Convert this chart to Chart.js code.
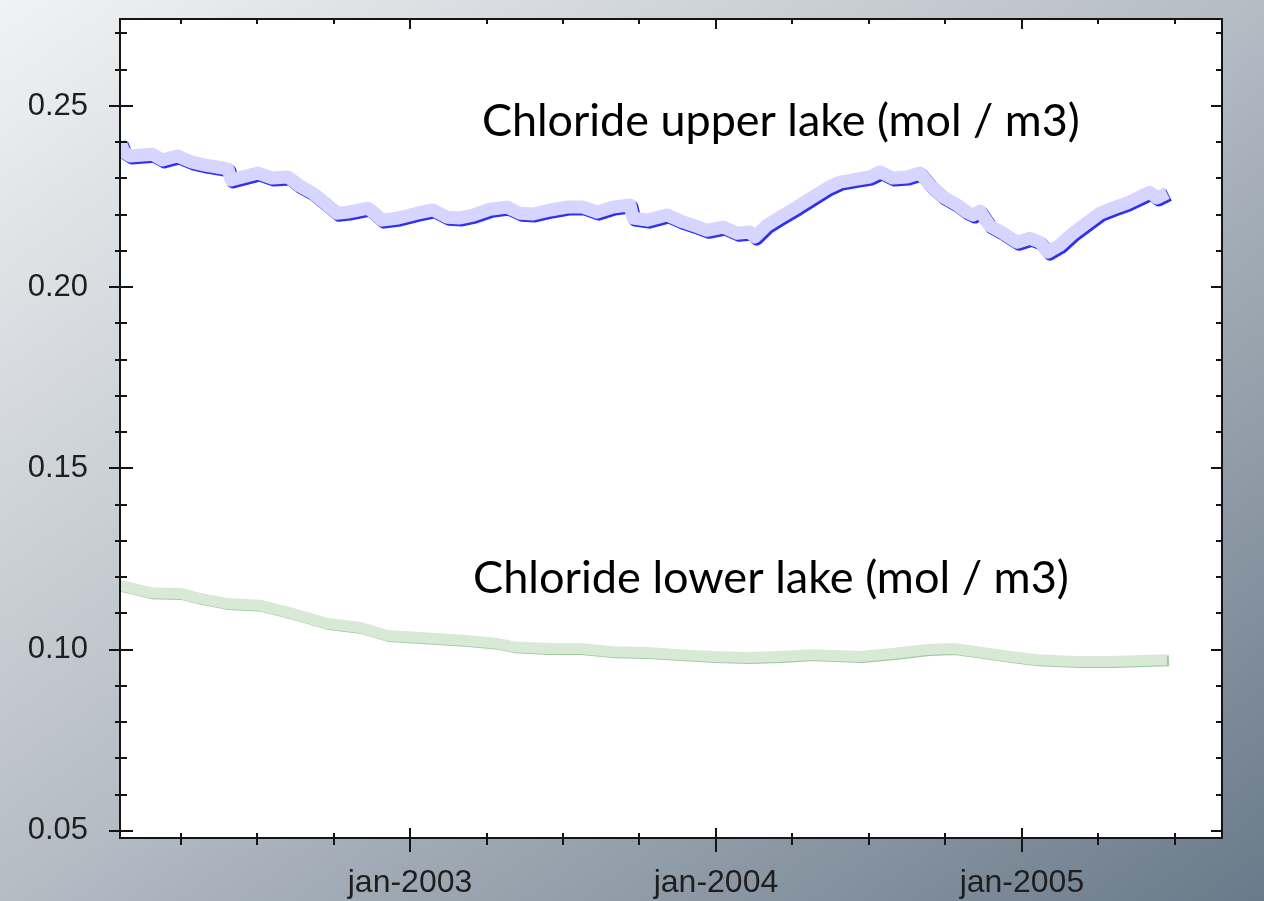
<!DOCTYPE html>
<html>
<head>
<meta charset="utf-8">
<script src="https://cdn.jsdelivr.net/npm/chart.js@4/dist/chart.umd.min.js"></script>
<style>
  html, body { margin: 0; padding: 0; }
  body {
    width: 1264px; height: 901px; overflow: hidden;
    background: linear-gradient(to bottom right, #f1f2f3 0%, #b4bcc4 50%, #6a7a8a 100%);
  }
  canvas { display: block; }
</style>
</head>
<body>
<canvas id="chart" width="1264" height="901"></canvas>
<script>
// decimal years on the x axis, chloride (mol / m3) on the y axis
const upperYears = [2002.052, 2002.065, 2002.085, 2002.157, 2002.190, 2002.239, 2002.288, 2002.330, 2002.373, 2002.405,
  2002.415, 2002.503, 2002.549, 2002.601, 2002.634, 2002.680, 2002.722, 2002.761, 2002.797, 2002.863,
  2002.908, 2002.961, 2003.023, 2003.075, 2003.121, 2003.163, 2003.206, 2003.261, 2003.317, 2003.359,
  2003.402, 2003.458, 2003.513, 2003.565, 2003.611, 2003.663, 2003.719, 2003.729, 2003.775, 2003.840,
  2003.892, 2003.925, 2003.971, 2004.023, 2004.069, 2004.111, 2004.127, 2004.167, 2004.209, 2004.265,
  2004.317, 2004.363, 2004.405, 2004.461, 2004.503, 2004.536, 2004.578, 2004.624, 2004.667, 2004.699,
  2004.742, 2004.788, 2004.820, 2004.840, 2004.863, 2004.895, 2004.938, 2004.984, 2005.026, 2005.059,
  2005.085, 2005.124, 2005.167, 2005.212, 2005.255, 2005.297, 2005.343, 2005.386, 2005.418, 2005.441,
  2005.474];
const upperValues = [0.2401, 0.2373, 0.2362, 0.2367, 0.2351, 0.2362, 0.2345, 0.2337, 0.2331, 0.2326,
  0.2296, 0.2315, 0.2301, 0.2304, 0.2282, 0.2260, 0.2232, 0.2204, 0.2207, 0.2218,
  0.2185, 0.2191, 0.2204, 0.2213, 0.2193, 0.2191, 0.2199, 0.2215, 0.2221, 0.2204,
  0.2202, 0.2213, 0.2221, 0.2221, 0.2207, 0.2221, 0.2227, 0.2191, 0.2185, 0.2199,
  0.2180, 0.2171, 0.2157, 0.2166, 0.2149, 0.2152, 0.2138, 0.2171, 0.2193, 0.2221,
  0.2249, 0.2273, 0.2290, 0.2298, 0.2304, 0.2318, 0.2301, 0.2304, 0.2315, 0.2282,
  0.2249, 0.2227, 0.2207, 0.2199, 0.2210, 0.2169, 0.2149, 0.2124, 0.2135, 0.2124,
  0.2097, 0.2116, 0.2149, 0.2177, 0.2204, 0.2218, 0.2232, 0.2249, 0.2262, 0.2246,
  0.2260];

const lowerYears = [2002.052, 2002.150, 2002.248, 2002.314, 2002.402, 2002.510, 2002.618, 2002.729, 2002.837, 2002.925,
  2003.033, 2003.186, 2003.284, 2003.337, 2003.448, 2003.556, 2003.663, 2003.775, 2003.882, 2003.990,
  2004.101, 2004.209, 2004.317, 2004.471, 2004.578, 2004.690, 2004.775, 2004.853, 2004.961, 2005.049,
  2005.180, 2005.288, 2005.395, 2005.474];
const lowerValues = [0.1177, 0.1157, 0.1155, 0.1141, 0.1127, 0.1122, 0.1099, 0.1072, 0.1061, 0.1039,
  0.1033, 0.1025, 0.1017, 0.1008, 0.1003, 0.1003, 0.0994, 0.0992, 0.0986, 0.0981,
  0.0978, 0.0981, 0.0986, 0.0981, 0.0989, 0.1000, 0.1003, 0.0994, 0.0981, 0.0972,
  0.0967, 0.0967, 0.0970, 0.0972];

const xTickYears = [2003, 2004, 2005];
const yTickValues = [0.05, 0.10, 0.15, 0.20, 0.25];
const seriesLabels = ['Chloride upper lake (mol / m3)', 'Chloride lower lake (mol / m3)'];

const X_MIN = 2002.052, X_MAX = 2005.654;
const Y_MIN = 0.048, Y_MAX = 0.274;

const toPoints = (xs, ys) => xs.map((x, i) => ({ x, y: ys[i] }));

// white plot area on the grey gradient
const plotBg = {
  id: 'plotBg',
  beforeDraw(chart) {
    const { ctx, chartArea: a } = chart;
    ctx.save();
    ctx.fillStyle = '#ffffff';
    ctx.fillRect(a.left, a.top, a.right - a.left, a.bottom - a.top);
    ctx.restore();
  }
};

// hard offset shadow under the wide pale lines
const lineShadow = {
  id: 'lineShadow',
  beforeDatasetDraw(chart, args) {
    const s = chart.data.datasets[args.index].shadow;
    if (!s) return;
    const ctx = chart.ctx;
    ctx.save();
    ctx.shadowColor = s.color;
    ctx.shadowOffsetX = s.dx;
    ctx.shadowOffsetY = s.dy;
    ctx.shadowBlur = 0;
  },
  afterDatasetDraw(chart, args) {
    if (chart.data.datasets[args.index].shadow) chart.ctx.restore();
  }
};

// box frame, tick marks on all four sides, series captions
const frame = {
  id: 'frame',
  afterDraw(chart) {
    const { ctx, chartArea: a, scales: { x, y } } = chart;
    ctx.save();
    ctx.strokeStyle = '#141414';
    ctx.lineWidth = 2;
    ctx.strokeRect(a.left, a.top, a.right - a.left, a.bottom - a.top);
    ctx.beginPath();
    for (let q = Math.ceil(X_MIN * 4); q <= X_MAX * 4; q++) {
      const major = q % 4 === 0;
      const px = Math.round(x.getPixelForValue(q / 4));
      ctx.moveTo(px, a.bottom - (major ? 10 : 5));
      ctx.lineTo(px, a.bottom + (major ? 14 : 7));
      ctx.moveTo(px, a.top);
      ctx.lineTo(px, a.top + (major ? 10 : 5));
    }
    for (let k = Math.ceil(Y_MIN * 100); k <= Y_MAX * 100; k++) {
      const major = k % 5 === 0;
      const py = Math.round(y.getPixelForValue(k / 100));
      ctx.moveTo(a.left - (major ? 11 : 5), py);
      ctx.lineTo(a.left + (major ? 13 : 7), py);
      ctx.moveTo(a.right - (major ? 11 : 6), py);
      ctx.lineTo(a.right, py);
    }
    ctx.stroke();

    ctx.fillStyle = '#000';
    ctx.textAlign = 'left';
    ctx.textBaseline = 'alphabetic';
    const caps = [
      { text: seriesLabels[0], x: 2003.235, y: 0.2417, w: 598 },
      { text: seriesLabels[1], x: 2003.206, y: 0.11547, w: 596 }
    ];
    caps.forEach(c => {
      ctx.font = '48px Lato';
      const size = 48 * c.w / ctx.measureText(c.text).width;
      ctx.font = size.toFixed(1) + 'px Lato';
      ctx.fillText(c.text, x.getPixelForValue(c.x), y.getPixelForValue(c.y));
    });
    ctx.restore();
  }
};

const noEdgePadding = s => {
  s.paddingTop = 0; s.paddingBottom = 0; s.paddingLeft = 0; s.paddingRight = 0;
};

new Chart(document.getElementById('chart'), {
  type: 'line',
  data: {
    datasets: [
      {
        label: seriesLabels[0],
        data: toPoints(upperYears, upperValues),
        borderColor: '#d5d5ff',
        borderWidth: 13,
        borderJoinStyle: 'round',
        pointRadius: 0,
        tension: 0,
        shadow: { color: '#3030f0', dx: 2, dy: 2 }
      },
      {
        label: seriesLabels[1],
        data: toPoints(lowerYears, lowerValues),
        borderColor: '#d8e9d6',
        borderWidth: 11,
        borderJoinStyle: 'round',
        pointRadius: 0,
        tension: 0,
        shadow: { color: 'rgba(40,135,40,0.45)', dx: 2, dy: 1 }
      }
    ]
  },
  options: {
    responsive: false,
    devicePixelRatio: 1,
    animation: false,
    layout: { padding: { top: 19, right: 42, left: 0, bottom: 0 } },
    plugins: { legend: { display: false }, tooltip: { enabled: false } },
    scales: {
      x: {
        type: 'linear',
        min: X_MIN,
        max: X_MAX,
        grid: { display: false, drawTicks: false },
        border: { display: false },
        afterBuildTicks: s => { s.ticks = xTickYears.map(v => ({ value: v })); },
        afterFit: s => { s.height = 63; noEdgePadding(s); },
        ticks: {
          padding: 26,
          maxRotation: 0,
          color: '#1e1e1e',
          font: { family: 'Liberation Sans', size: 32 },
          callback: v => 'jan-' + v
        }
      },
      y: {
        min: Y_MIN,
        max: Y_MAX,
        grid: { display: false, drawTicks: false },
        border: { display: false },
        afterBuildTicks: s => { s.ticks = yTickValues.map(v => ({ value: v })); },
        afterFit: s => { s.width = 120; noEdgePadding(s); },
        ticks: {
          padding: 32,
          color: '#1e1e1e',
          font: { family: 'Liberation Sans', size: 31 },
          callback: v => v.toFixed(2)
        }
      }
    }
  },
  plugins: [plotBg, lineShadow, frame]
});
</script>
</body>
</html>
